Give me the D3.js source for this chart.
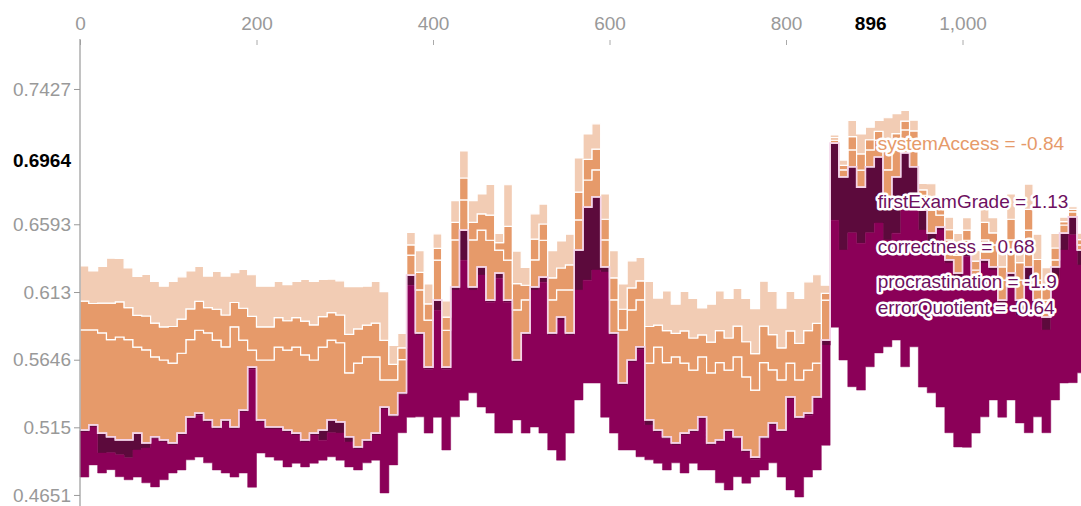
<!DOCTYPE html>
<html><head><meta charset="utf-8">
<script src="https://cdn.jsdelivr.net/npm/d3@7"></script>
<style>
body{margin:0;background:#fff}
svg{display:block}
text{font-family:"Liberation Sans",Arial,Helvetica,sans-serif}
</style>
</head><body>
<svg id="chart" width="1081" height="506"></svg>
<script>
// ---- data (log-odds units; one entry every 10 samples) ----
const sampleStep = 10;
const outputValue = [0.052,0.067,0.043,0.032,0.023,0.023,0.043,0.014,0.032,0.023,
 0.014,0.043,0.091,0.102,0.082,0.061,0.082,0.061,0.111,0.238,
 0.082,0.061,0.061,0.052,0.043,0.023,0.043,0.052,0.082,0.076,
 0.032,0.002,0.023,0.043,0.120,0.097,0.162,0.510,0.339,0.238,
 0.436,0.238,0.475,0.643,0.475,0.534,0.436,0.516,0.436,0.259,
 0.339,0.475,0.504,0.339,0.386,0.339,0.584,0.711,0.741,0.534,
 0.339,0.191,0.259,0.298,0.082,0.052,0.032,0.014,0.043,0.052,
 0.091,0.014,0.023,0.052,0.032,-0.007,-0.028,0.032,0.073,0.052,
 0.150,0.091,0.102,0.150,0.318,0.900,0.800,0.830,0.770,0.830,
 0.859,0.732,0.800,0.871,0.830,0.702,0.634,0.652,0.555,0.516,
 0.575,0.475,0.555,0.534,0.436,0.516,0.436,0.534,0.436,0.386,
 0.534,0.634,0.682,0.584];
const systemAccessEffect = [-0.296,-0.281,-0.296,-0.287,-0.304,-0.296,-0.254,-0.275,-0.236,-0.236,
 -0.236,-0.236,-0.228,-0.245,-0.257,-0.257,-0.216,-0.296,-0.207,-0.050,
 -0.177,-0.198,-0.236,-0.236,-0.254,-0.251,-0.216,-0.245,-0.236,-0.234,
 -0.189,-0.248,-0.245,-0.225,-0.080,-0.103,-0.098,-0.059,-0.127,-0.139,
 -0.118,-0.109,-0.139,-0.089,-0.139,-0.109,-0.177,-0.068,-0.118,-0.148,
 -0.098,-0.080,-0.109,-0.098,-0.080,-0.127,-0.089,-0.080,-0.080,-0.080,
 -0.098,-0.157,-0.148,-0.139,-0.168,-0.245,-0.219,-0.254,-0.207,-0.177,
 -0.177,-0.207,-0.228,-0.177,-0.236,-0.216,-0.198,-0.219,-0.157,-0.148,
 -0.100,-0.109,-0.127,-0.100,-0.118,-0.009,-0.021,-0.050,-0.050,-0.050,
 -0.050,-0.089,-0.080,-0.068,-0.080,-0.044,-0.068,-0.035,-0.059,-0.053,
 -0.038,-0.050,-0.059,-0.065,-0.059,-0.098,-0.059,-0.109,-0.059,-0.050,
 -0.021,-0.024,-0.015,-0.015];
const otherNegEffectA = [-0.085,-0.078,-0.088,-0.108,-0.104,-0.095,-0.094,-0.100,-0.100,-0.098,
 -0.108,-0.101,-0.091,-0.085,-0.075,-0.091,-0.094,-0.072,-0.094,-0.100,
 -0.098,-0.098,-0.087,-0.087,-0.087,-0.100,-0.104,-0.090,-0.081,-0.082,
 -0.114,-0.101,-0.094,-0.100,-0.117,-0.046,-0.035,-0.030,-0.052,-0.048,
 -0.035,-0.039,-0.052,-0.065,-0.052,-0.048,-0.074,-0.022,-0.100,-0.078,
 -0.043,-0.061,-0.048,-0.065,-0.065,-0.074,-0.082,-0.061,-0.061,-0.061,
 -0.065,-0.061,-0.065,-0.056,-0.108,-0.065,-0.095,-0.070,-0.095,-0.095,
 -0.065,-0.091,-0.095,-0.095,-0.091,-0.104,-0.108,-0.108,-0.104,-0.095,
 -0.095,-0.108,-0.117,-0.117,-0.020,-0.007,-0.013,-0.039,-0.048,-0.030,
 -0.026,-0.069,-0.048,-0.026,-0.026,-0.016,-0.035,-0.020,-0.030,-0.029,
 -0.030,-0.026,-0.052,-0.036,-0.039,-0.061,-0.052,-0.061,-0.061,-0.043,
 -0.035,-0.010,-0.007,-0.016];
const otherNegEffectB = [-0.104,-0.096,-0.109,-0.133,-0.128,-0.117,-0.115,-0.123,-0.123,-0.120,
 -0.133,-0.125,-0.112,-0.104,-0.093,-0.112,-0.115,-0.088,-0.115,-0.123,
 -0.120,-0.120,-0.107,-0.107,-0.107,-0.123,-0.128,-0.110,-0.099,-0.101,
 -0.141,-0.125,-0.115,-0.123,-0.144,-0.056,-0.043,-0.037,-0.064,-0.059,
 -0.043,-0.048,-0.064,-0.080,-0.064,-0.059,-0.091,-0.027,-0.123,-0.096,
 -0.053,-0.075,-0.059,-0.080,-0.080,-0.091,-0.101,-0.075,-0.075,-0.075,
 -0.080,-0.075,-0.080,-0.069,-0.133,-0.080,-0.117,-0.086,-0.117,-0.117,
 -0.080,-0.112,-0.117,-0.117,-0.112,-0.128,-0.133,-0.133,-0.128,-0.117,
 -0.117,-0.133,-0.144,-0.144,-0.024,-0.008,-0.016,-0.048,-0.059,-0.037,
 -0.032,-0.085,-0.059,-0.032,-0.032,-0.019,-0.043,-0.024,-0.037,-0.035,
 -0.037,-0.032,-0.064,-0.045,-0.048,-0.075,-0.064,-0.075,-0.075,-0.053,
 -0.043,-0.013,-0.008,-0.019];
const firstExamGradeEffect = [0.006,0.006,0.059,0.047,0.044,0.053,0.050,0.015,0.006,0.006,
 0.006,0.006,0.006,0.006,0.006,0.006,0.006,0.006,0.006,0.006,
 0.006,0.006,0.006,0.006,0.006,0.006,0.006,0.030,0.038,0.033,
 0.015,0.006,0.006,0.006,0.006,0.006,0.006,0.030,0.006,0.006,
 0.030,0.006,0.009,0.089,0.009,0.024,0.006,0.015,0.006,0.006,
 0.006,0.009,0.015,0.006,0.009,0.006,0.118,0.216,0.216,0.015,
 0.006,0.006,0.006,0.009,0.015,0.006,0.006,0.006,0.006,0.006,
 0.006,0.006,0.006,0.006,0.006,0.006,0.006,0.006,0.006,0.006,
 0.006,0.006,0.006,0.006,0.015,0.228,0.216,0.195,0.166,0.195,
 0.195,0.118,0.166,0.168,0.127,0.059,0.035,0.009,0.009,0.009,
 0.009,0.009,0.009,0.009,0.009,0.035,0.044,0.038,0.044,0.038,
 0.038,0.050,0.053,0.044];
const otherPosEffect = [0.133,0.112,0.059,0.050,0.065,0.065,0.080,0.103,0.142,0.112,
 0.083,0.103,0.121,0.124,0.121,0.121,0.151,0.142,0.180,0.349,
 0.092,0.083,0.092,0.103,0.083,0.074,0.083,0.059,0.071,0.080,
 0.074,0.062,0.062,0.074,0.248,0.142,0.112,0.390,0.242,0.189,
 0.316,0.239,0.375,0.414,0.304,0.390,0.328,0.458,0.387,0.171,
 0.290,0.405,0.446,0.340,0.414,0.290,0.325,0.304,0.334,0.429,
 0.290,0.192,0.260,0.316,0.103,0.092,0.092,0.053,0.112,0.092,
 0.151,0.074,0.121,0.171,0.112,0.092,0.053,0.092,0.112,0.133,
 0.269,0.231,0.183,0.210,0.296,0.316,0.325,0.455,0.434,0.396,
 0.384,0.316,0.316,0.464,0.405,0.464,0.437,0.523,0.502,0.505,
 0.565,0.423,0.455,0.384,0.337,0.340,0.319,0.452,0.301,0.304,
 0.355,0.393,0.437,0.319];

const xTickValues = [0, 200, 400, 600, 800, 1000];
const yTickLabels = ["0.4651", "0.515", "0.5646", "0.613", "0.6593", "0.7427"];

const hoverSample = 896;
const hoverOutput = "0.6964";
const hoverNames = ["systemAccess", "firstExamGrade", "correctness", "procrastination", "errorQuotient"];
const hoverFeatureValues = ["-0.84", "1.13", "0.68", "-1.9", "-0.64"];
const hoverEffects = [-0.14, 0.203, 0.063, 0.144, 0.010];

// ---- drawing ----
const colPos = "#8B0058", colPosDark = "#5C0A3C", colNeg = "#E69A6A", colLabelPos = "#6E1060";
const svg = d3.select("#chart");
const x = d3.scaleLinear().domain([0, 1000]).range([80, 962.5]);
const y = d3.scaleLinear().domain([-0.14, 1.06]).range([495, 89]);
const logit = p => Math.log(p / (1 - p));

const n = outputValue.length;
const samples = d3.range(n).map(i => i * sampleStep);

function stack(layers, dir) {
  const acc = outputValue.slice();
  return layers.map(eff => {
    const pts = eff.map((e, i) => {
      const y0 = acc[i], y1 = acc[i] + dir * Math.abs(e);
      acc[i] = y1;
      return { s: samples[i], y0, y1 };
    });
    const last = pts[pts.length - 1];
    pts.push({ s: last.s + sampleStep, y0: last.y0, y1: last.y1 });
    return pts;
  });
}
const area = d3.area().x(d => x(d.s)).y0(d => y(d.y0)).y1(d => y(d.y1)).curve(d3.curveStepAfter);

const plot = svg.append("g");
const posStack = stack([firstExamGradeEffect, otherPosEffect], -1);
plot.selectAll(".pos").data(posStack).join("path")
  .attr("d", area)
  .attr("fill", (d, i) => i === 0 ? colPosDark : colPos)
  .attr("stroke", (d, i) => i === 0 ? colPosDark : colPos)
  .attr("stroke-width", 0.5);

const negStack = stack([systemAccessEffect, otherNegEffectA, otherNegEffectB], 1);
plot.selectAll(".neg").data(negStack).join("path")
  .attr("d", area)
  .attr("fill", colNeg)
  .attr("fill-opacity", (d, i) => i === 2 ? 0.5 : 1)
  .attr("stroke", "#fff")
  .attr("stroke-width", 1.2);

// output boundary line
const outPts = samples.map((s, i) => ({ s, v: outputValue[i] }));
outPts.push({ s: samples[n - 1] + sampleStep, v: outputValue[n - 1] });
plot.append("path")
  .attr("d", d3.line().x(d => x(d.s)).y(d => y(d.v)).curve(d3.curveStepAfter)(outPts))
  .attr("fill", "none").attr("stroke", "#f4d2e8").attr("stroke-width", 1.6);

// x axis (top)
const xAxis = svg.append("g").attr("transform", "translate(0,45)")
  .call(d3.axisTop(x).tickValues(xTickValues).tickFormat(d3.format(",")).tickSize(5).tickPadding(10));
xAxis.select(".domain").remove();
xAxis.selectAll(".tick line").attr("stroke", "#aaa");
xAxis.selectAll(".tick text").attr("fill", "#999").style("font-size", "19px")
  .style("font-family", '"Liberation Sans",Arial,sans-serif');

// y axis
const yTickVals = yTickLabels.map(t => logit(+t));
const yAxis = svg.append("g").attr("transform", "translate(80,0)")
  .call(d3.axisLeft(y).tickValues(yTickVals).tickFormat((d, i) => yTickLabels[i]).tickSize(6).tickPadding(3));
yAxis.select(".domain").remove();
yAxis.selectAll(".tick line").attr("stroke", "#999");
yAxis.selectAll(".tick text").attr("fill", "#999").style("font-size", "19px")
  .style("font-family", '"Liberation Sans",Arial,sans-serif');
svg.append("line").attr("x1", 80).attr("x2", 80).attr("y1", 39).attr("y2", 506)
  .attr("stroke", "#999").attr("stroke-width", 1.2);

// hover labels
const hoverMargin = logit(+hoverOutput);
svg.append("text").attr("x", x(hoverSample)).attr("y", 30).attr("text-anchor", "middle")
  .style("font-size", "19px").style("font-weight", "bold").attr("fill", "#000").text(hoverSample);
svg.append("text").attr("x", 71).attr("y", y(hoverMargin)).attr("text-anchor", "end")
  .style("font-size", "19px").style("font-weight", "bold").attr("fill", "#000").text(hoverOutput);

let posAcc = hoverMargin, negAcc = hoverMargin;
hoverNames.forEach((name, i) => {
  const e = hoverEffects[i];
  let c;
  if (e < 0) { c = negAcc + Math.abs(e) / 2; negAcc += Math.abs(e); }
  else { c = posAcc - e / 2; posAcc -= e; }
  svg.append("text").attr("x", x(hoverSample) + 7).attr("y", y(c)).attr("dy", "0.35em")
    .style("font-size", "19px")
    .attr("fill", e < 0 ? colNeg : colLabelPos)
    .attr("stroke", "#fff").attr("stroke-width", 5).attr("stroke-linejoin", "round")
    .style("paint-order", "stroke")
    .text(`${name} = ${hoverFeatureValues[i]}`);
});
</script>
</body></html>
